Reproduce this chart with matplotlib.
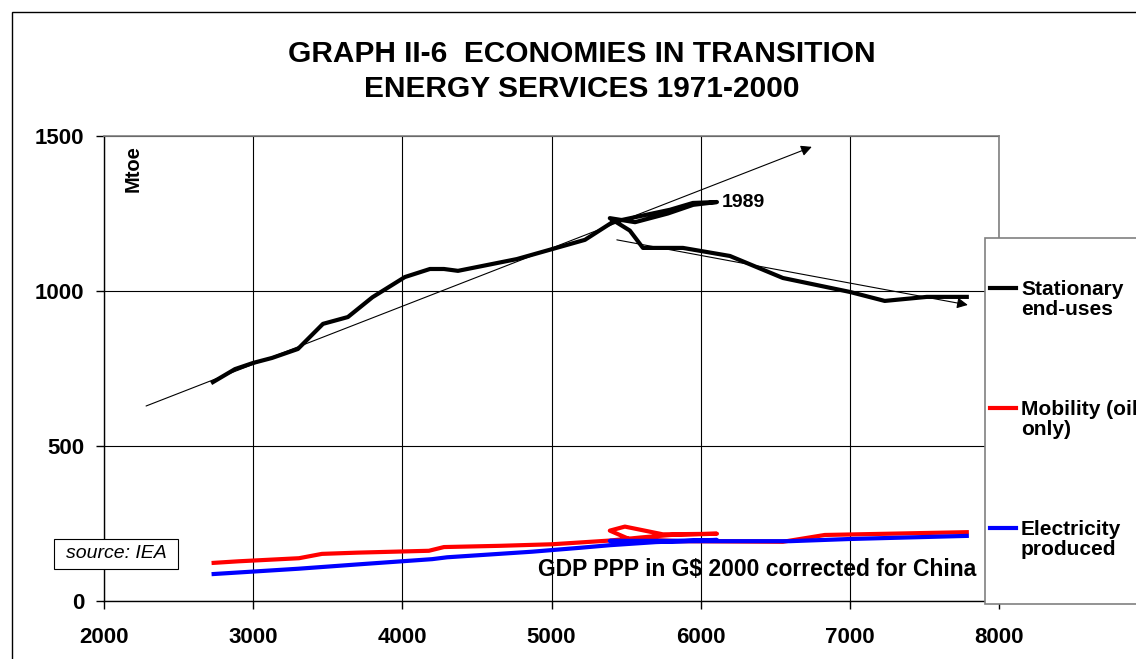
import numpy as np
import matplotlib
matplotlib.use("Agg")
import matplotlib.pyplot as plt
from matplotlib.patches import Rectangle
from matplotlib.lines import Line2D

plt.rcParams['font.family'] = ['Liberation Sans', 'DejaVu Sans']

# GDP (x) and energy service (Mtoe), path order kept
gdp_stat = [2730, 2878, 3000, 3126, 3300, 3468, 3635, 3800, 4017, 4185, 4279, 4373,
            4768, 5003, 5224, 5412, 5794, 5948, 6109, 5950, 5780, 5560, 5391, 5525,
            5613, 5881, 6196, 6551, 7000, 7234, 7516, 7784]
stationary = [706, 748, 768, 784, 813, 894, 916, 980, 1045, 1071, 1071, 1065,
              1103, 1135, 1165, 1223, 1262, 1284, 1287, 1278, 1250, 1222, 1235, 1195,
              1139, 1139, 1113, 1042, 997, 968, 981, 981]

gdp_mob = [2735, 2900, 3307, 3461, 3700, 4178, 4279, 4654, 5003, 5391, 5600, 5800,
           6109, 5747, 5492, 5391, 5520, 5861, 6551, 6832, 7784]
mobility = [123, 128, 138, 152, 156, 162, 174, 178, 183, 195, 205, 213,
            217, 215, 240, 227, 200, 193, 191, 213, 222]

gdp_elec = [2735, 3300, 3700, 4200, 4300, 4869, 5200, 5391, 5700, 6109, 5800, 5391,
            5600, 6000, 6600, 7000, 7784]
electricity = [87, 104, 118, 135, 141, 159, 172, 180, 190, 197, 194, 194,
               192, 193, 193, 200, 210]

# thin trend arrows (start, end)
trend_up = [(2282, 629), (6745, 1465)]
trend_down = [(5438, 1165), (7791, 955)]

series_labels = ['Stationary\nend-uses', 'Mobility (oil\nonly)', 'Electricity\nproduced']
series_colors = ['black', '#ff0000', '#0000ff']

W, H = 1136, 659
fig = plt.figure(figsize=(W / 100, H / 100), dpi=100)
ax = fig.add_axes([104 / W, 1 - 601 / H, (999 - 104) / W, (601 - 136) / H])

ax.set_xlim(2000, 8000)
ax.set_ylim(0, 1500)
ax.set_xticks(np.arange(2000, 8001, 1000))
ax.set_yticks([0, 500, 1000, 1500])
ax.grid(True, color='black', lw=0.8)
ax.set_axisbelow(True)
for side in ['top', 'right']:
    ax.spines[side].set_color('#808080')
    ax.spines[side].set_linewidth(1.2)
for side in ['left', 'bottom']:
    ax.spines[side].set_linewidth(1.0)
ax.tick_params(direction='out', length=6, width=1, labelsize=16)
ax.tick_params(axis='x', pad=13)
ax.tick_params(axis='y', pad=8)
for lab in ax.get_xticklabels() + ax.get_yticklabels():
    lab.set_fontweight('bold')

ax.plot(gdp_stat, stationary, color=series_colors[0], lw=3, solid_joinstyle='round')
ax.plot(gdp_mob, mobility, color=series_colors[1], lw=3, solid_joinstyle='round')
ax.plot(gdp_elec, electricity, color=series_colors[2], lw=3, solid_joinstyle='round')

for tr in [trend_up, trend_down]:
    ax.annotate('', xy=tr[1], xytext=tr[0],
                arrowprops=dict(arrowstyle='-|>', lw=0.8, color='black', mutation_scale=16,
                                shrinkA=0, shrinkB=0))

ax.text(gdp_stat[18] + 35, stationary[18], '1989', fontsize=14, fontweight='bold',
        va='center', ha='left')
ax.text(2195, 1500 - 30, 'Mtoe', rotation=90, fontsize=14.5, fontweight='bold',
        ha='center', va='top')
ax.text(7850, 100, 'GDP PPP in G$ 2000 corrected for China', fontsize=16.5,
        fontweight='bold', ha='right', va='center')

fig.suptitle('GRAPH II-6  ECONOMIES IN TRANSITION\nENERGY SERVICES 1971-2000',
             x=582 / W, y=1 - 40 / H, fontsize=21.5, fontweight='bold', va='top',
             linespacing=1.3)

# outer chart frame (runs off the right and bottom edges)
fig.add_artist(Rectangle((12 / W, -0.1), 1.2, 1.1 - 12 / H, transform=fig.transFigure,
                         fill=False, ec='black', lw=1))

# source box
fig.add_artist(Rectangle((54 / W, 1 - 569 / H), 124 / W, 30 / H, transform=fig.transFigure,
                         fc='white', ec='black', lw=0.8))
fig.text(116 / W, 1 - 554 / H, 'source: IEA', fontsize=14, style='italic',
         ha='center', va='center')

# legend box (cut by the right edge as in the original)
fig.add_artist(Rectangle((985 / W, 1 - 604 / H), 0.3, (604 - 238) / H,
                         transform=fig.transFigure, fc='white', ec='#808080', lw=1.2))
for yy, lab, col in zip([288, 408, 528], series_labels, series_colors):
    fig.add_artist(Line2D([990 / W, 1016 / W], [1 - yy / H, 1 - yy / H],
                          transform=fig.transFigure, color=col, lw=3))
    fig.text(1021 / W, 1 - (yy - 8) / H, lab, fontsize=15, fontweight='bold',
             ha='left', va='top', linespacing=1.08)

fig.savefig('out.png', dpi=100)
